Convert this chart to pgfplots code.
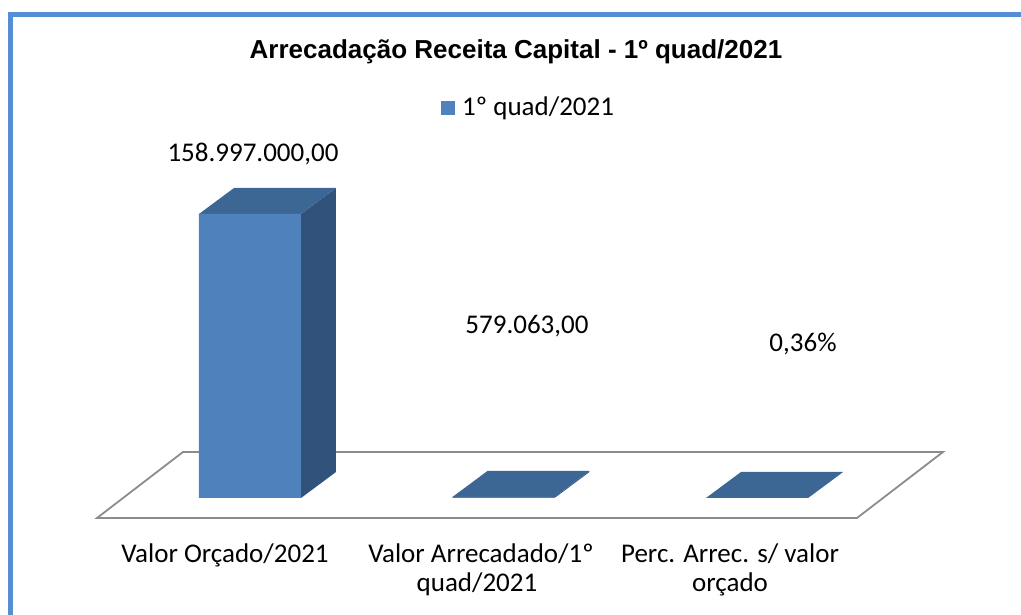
\documentclass[border=0pt]{standalone}
\usepackage{fontspec}
\setmainfont{Carlito}
\newfontfamily\arialfont{Liberation Sans}
\usepackage{pgfplots}
\usepackage{pgfplotstable}
\pgfplotsset{compat=1.18}
\definecolor{frontcol}{HTML}{4F81BD}
\definecolor{sidecol}{HTML}{31527B}
\definecolor{topcol}{HTML}{3C6694}
\definecolor{floorcol}{HTML}{8C8C8C}
\definecolor{framecol}{HTML}{558ED5}

% chart data
\pgfplotstableread{
cat value
0 158997000
1 579063
2 0.0036
}\datatable

% oblique 3D faces: offsets (dx in category units, dy in value units), f = multiply by bar value
\pgfplotstableread{
dx dy f
0.20118 0 0
0.33925 14556074 0
0.33925 14556074 1
0.20118 0 1
}\sideshape

\pgfplotstableread{
dx dy f
-0.20118 0 1
0.20118 0 1
0.33925 14556074 1
-0.06311 14556074 1
}\topshape

\begin{document}
\begin{tikzpicture}[x=1pt,y=1pt,every node/.style={inner sep=0pt,font=\fontsize{27}{32}\selectfont}]
\useasboundingbox (0,0) rectangle (1021,615);
\begin{axis}[at={(0,0)}, anchor=south west, scale only axis,
  width=1021pt, height=615pt,
  xmin=-0.98619, xmax=3.04142, ymin=-65502333, ymax=278804802,
  hide axis, clip=false]
% floor
\addplot[draw=floorcol, line width=1.8pt, fill=white, line join=miter]
  coordinates {(-0.60355,-11196980) (2.39448,-11196980) (2.73373,25753054) (-0.26430,25753054)} -- cycle;
% side and top faces
\pgfplotsinvokeforeach{0,1,2}{%
  \pgfplotstablegetelem{#1}{value}\of\datatable
  \edef\barcmd{%
    \noexpand\addplot[fill=sidecol, draw=none] table[x expr=\noexpand\thisrow{dx}+#1, y expr=\noexpand\thisrow{dy}+\noexpand\thisrow{f}*\pgfplotsretval] {\noexpand\sideshape};
    \noexpand\addplot[fill=topcol, draw=none] table[x expr=\noexpand\thisrow{dx}+#1, y expr=\noexpand\thisrow{dy}+\noexpand\thisrow{f}*\pgfplotsretval] {\noexpand\topshape};
  }%
  \barcmd
}
% front faces
\addplot[ybar, bar width=102pt, fill=frontcol, draw=none] table[x=cat, y=value] {\datatable};
\end{axis}
% frame
\draw[framecol, line width=4.5pt, line join=miter] (10.5,-10) -- (10.5,600.5) -- (1040,600.5);
% title
\node[anchor=base] at (516,556) {\arialfont\bfseries\fontsize{26}{31}\selectfont Arrecadação Receita Capital - 1º quad/2021};
% legend
\fill[frontcol] (441,500) rectangle (455,514);
\node[anchor=base west] at (462,499.5) {1º quad/2021};
% data labels
\node[anchor=base] at (253,453) {158.997.000,00};
\node[anchor=base] at (527,281) {579.063,00};
\node[anchor=base] at (803,263) {0,36\%};
% category labels
\node[anchor=base] at (225,52) {Valor Orçado/2021};
\node[anchor=base] at (481,52) {Valor Arrecadado/1º};
\node[anchor=base] at (477,23) {quad/2021};
\node[anchor=base] at (730,52) {Perc. Arrec. s/ valor};
\node[anchor=base] at (730,23) {orçado};
\end{tikzpicture}
\end{document}
